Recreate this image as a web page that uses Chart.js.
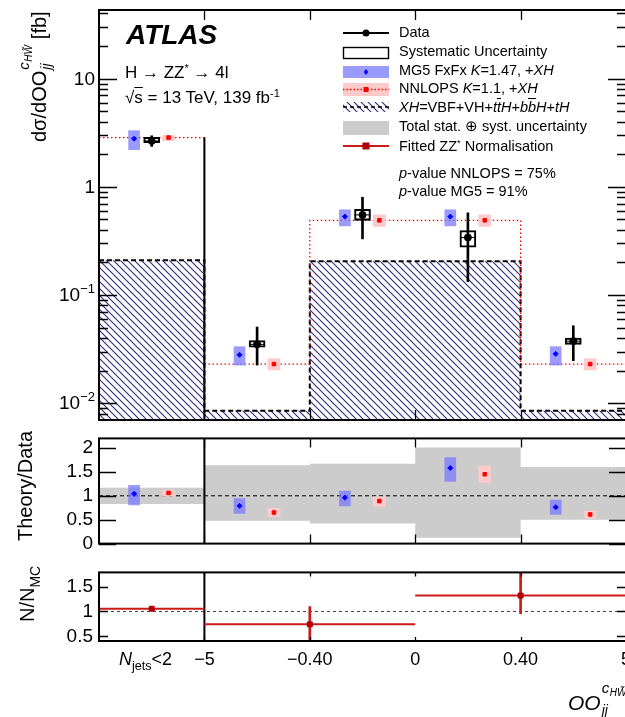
<!DOCTYPE html>
<html>
<head>
<meta charset="utf-8">
<script src="https://cdn.jsdelivr.net/npm/chart.js@4.4.1/dist/chart.umd.min.js"></script>
<style>
  html, body { margin: 0; padding: 0; background: #fff; }
  body { position: relative; width: 625px; height: 717px; overflow: hidden; font-family: "Liberation Sans", Arial, sans-serif; }
  canvas { position: absolute; left: 0; }
  .t { position: absolute; white-space: nowrap; line-height: 1; color: #000; }
  .rot { transform: rotate(-90deg); transform-origin: 0 0; }
  .sb { font-size: 0.7em; vertical-align: -0.4em; }
  .sp { font-size: 0.65em; vertical-align: 0.55em; }
  .stk { position: relative; display: inline-block; width: 26px; height: 21px; }
  .stk span { position: absolute; font-style: italic; }
  .stk .c { left: 1px; top: -9px; font-size: 15px; }
  .stk .hw { left: 9px; top: -1px; font-size: 10px; }
  .stk .jj { left: 1px; top: 14px; font-size: 14px; }
  .ob { text-decoration: overline; }
</style>
</head>
<body>
<canvas id="main" style="top:0" width="640" height="430"></canvas>
<canvas id="ratio" style="top:421px" width="640" height="140"></canvas>
<canvas id="norm" style="top:555px" width="640" height="162"></canvas>

<div class="t" style="left:126px;top:21px;font-size:28px;font-weight:bold;font-style:italic;">ATLAS</div>
<div class="t" style="left:125px;top:63px;font-size:17px;">H → ZZ<span class="sp">*</span> → 4l</div>
<div class="t" style="left:125px;top:88px;font-size:17px;">√<span class="ob">s</span> = 13 TeV, 139 fb<span class="sp">-1</span></div>

<div class="t" style="left:399px;top:25px;font-size:14.5px;">Data</div>
<div class="t" style="left:399px;top:43.5px;font-size:14.5px;">Systematic Uncertainty</div>
<div class="t" style="left:399px;top:62.5px;font-size:14.5px;">MG5 FxFx <i>K</i>=1.47, +<i>XH</i></div>
<div class="t" style="left:399px;top:81px;font-size:14.5px;">NNLOPS <i>K</i>=1.1, +<i>XH</i></div>
<div class="t" style="left:399px;top:100px;font-size:14.5px;"><i>XH</i>=VBF+VH+<i>t</i><i class="ob">t</i><i>H</i>+<i>b</i><i class="ob">b</i><i>H</i>+<i>tH</i></div>
<div class="t" style="left:399px;top:118.5px;font-size:14.5px;">Total stat. ⊕ syst. uncertainty</div>
<div class="t" style="left:399px;top:137.5px;font-size:14.5px;">Fitted ZZ<span class="sp">*</span> Normalisation</div>
<div class="t" style="left:399px;top:166px;font-size:14.5px;"><i>p</i>-value NNLOPS = 75%</div>
<div class="t" style="left:399px;top:184px;font-size:14.5px;"><i>p</i>-value MG5 = 91%</div>

<div class="t rot" style="left:25px;top:142px;font-size:20px;">dσ/dOO<span class="stk"><span class="c">c</span><span class="hw">HW̃</span><span class="jj">jj</span></span> [fb]</div>
<div class="t rot" style="left:15px;top:541px;font-size:20px;">Theory/Data</div>
<div class="t rot" style="left:17px;top:622px;font-size:20px;">N/N<span class="sb">MC</span></div>

<div class="t" style="left:119px;top:650px;font-size:18px;"><i>N</i><span class="sb">jets</span>&lt;2</div>
<div class="t" style="left:568px;top:689px;font-size:21px;"><i>OO</i><span class="stk"><span class="c">c</span><span class="hw">HW̃</span><span class="jj">jj</span></span></div>

<script>
// bins: N_jets<2 plus four OO bins; x runs over bin index 0..5
const binCentres = [0.5, 1.5, 2.5, 3.5, 4.5];
const edgeTickLabels = ['−5', '−0.40', '0', '0.40', '5'];

// differential cross sections [fb]
const dataXs = [2.65, 0.035, 0.55, 0.34, 0.0375];
const dataTotLo = [2.36, 0.0225, 0.33, 0.133, 0.0247];
const dataTotHi = [2.96, 0.0506, 0.80, 0.574, 0.052];
const dataSysLo = [2.55, 0.033, 0.49, 0.276, 0.035];
const dataSysHi = [2.86, 0.038, 0.62, 0.394, 0.040];
const mg5Xs = [2.78, 0.028, 0.53, 0.53, 0.0286];
const mg5Lo = [2.2, 0.0225, 0.435, 0.435, 0.0225];
const mg5Hi = [3.3, 0.0333, 0.613, 0.613, 0.0333];
const nnlopsXs = [2.85, 0.023, 0.49, 0.49, 0.023];
const nnlopsLo = [2.67, 0.0203, 0.43, 0.43, 0.0203];
const nnlopsHi = [2.98, 0.0258, 0.55, 0.55, 0.0258];
const xhXs = [0.21, 0.0085, 0.205, 0.205, 0.0085];

// theory / data
const bandUp = [1.17, 1.64, 1.67, 2.01, 1.60];
const bandDn = [0.83, 0.48, 0.42, 0.12, 0.50];
const mg5Ratio = [1.04, 0.79, 0.96, 1.58, 0.76];
const mg5RatioLo = [0.81, 0.63, 0.79, 1.30, 0.61];
const mg5RatioHi = [1.22, 0.94, 1.10, 1.80, 0.91];
const nnRatio = [1.06, 0.65, 0.89, 1.45, 0.61];
const nnRatioLo = [0.99, 0.57, 0.78, 1.28, 0.53];
const nnRatioHi = [1.12, 0.74, 0.98, 1.62, 0.68];

// fitted ZZ* normalisation in three wide bins
const normFrom = [0, 1, 3];
const normTo = [1, 3, 5];
const normVal = [1.055, 0.74, 1.32];
const normErrLo = [1.03, 0.35, 0.957];
const normErrHi = [1.08, 1.10, 1.95];

const MAIN_MIN = 0.007, MAIN_MAX = 43;
const mg5Shift = -0.167, nnShift = 0.16;
const mg5Fill = 'rgba(120,120,255,0.75)';
const nnFill = '#ffcaca';
const fitRed = '#cc1a1a';

const steps = vals => vals.map((v, i) => ({x: i, y: v})).concat([{x: vals.length, y: vals[vals.length - 1]}]);
const at = (vals, shift) => vals.map((v, i) => ({x: binCentres[i] + shift, y: v}));
const span = (lo, hi, shift) => lo.map((v, i) => ({x: binCentres[i] + shift, y: [v, hi[i]]}));

function makeHatch() {
    const c = document.createElement('canvas');
    c.width = c.height = 7;
    const g = c.getContext('2d');
    g.strokeStyle = '#2c2c82';
    g.lineWidth = 1.1;
    g.beginPath();
    g.moveTo(-1, -1); g.lineTo(8, 8);
    g.moveTo(-1, 6); g.lineTo(1, 8);
    g.moveTo(6, -1); g.lineTo(8, 1);
    g.stroke();
    return g.createPattern(c, 'repeat');
}
const hatch = makeHatch();

// frame with ROOT-style ticks pointing inwards
const framePlugin = {
    id: 'frame',
    afterDatasetsDraw(chart, args, opts) {
        const {ctx, chartArea: a, scales: {x, y}} = chart;
        ctx.save();
        ctx.strokeStyle = '#000';
        ctx.lineWidth = 1.3;
        const yTicks = (vals, len) => vals.forEach(v => {
            const py = Math.round(y.getPixelForValue(v)) + 0.5;
            ctx.beginPath();
            ctx.moveTo(a.left, py); ctx.lineTo(a.left + len, py);
            ctx.moveTo(a.right, py); ctx.lineTo(a.right - len, py);
            ctx.stroke();
        });
        yTicks(opts.yMajor || [], opts.majorLen);
        yTicks(opts.yMinor || [], opts.minorLen);
        (opts.xTicks || []).forEach(v => {
            const px = Math.round(x.getPixelForValue(v)) + 0.5;
            ctx.beginPath();
            ctx.moveTo(px, a.top); ctx.lineTo(px, a.top + opts.xLen);
            ctx.moveTo(px, a.bottom); ctx.lineTo(px, a.bottom - opts.xLen);
            ctx.stroke();
        });
        ctx.lineWidth = 2;
        ctx.strokeRect(a.left, a.top, a.right - a.left, a.bottom - a.top);
        ctx.restore();
    }
};

// 10^n labels for the log axis
const decadeLabels = {
    id: 'decadeLabels',
    afterDraw(chart) {
        const {ctx, scales: {y}} = chart;
        ctx.save();
        ctx.fillStyle = '#000';
        ctx.textBaseline = 'middle';
        ctx.textAlign = 'right';
        [10, 1, 0.1, 0.01].forEach(v => {
            const py = y.getPixelForValue(v);
            const e = Math.round(Math.log10(v));
            const right = 95;
            if (e >= 0) {
                ctx.font = '19px "Liberation Sans", Arial';
                ctx.fillText(e === 0 ? '1' : '10', right, py + 1);
            } else {
                ctx.font = '13px "Liberation Sans", Arial';
                const ex = '−' + (-e);
                const w = ctx.measureText(ex).width;
                ctx.fillText(ex, right, py - 6);
                ctx.font = '19px "Liberation Sans", Arial';
                ctx.fillText('10', right - w, py + 1);
            }
        });
        ctx.restore();
    }
};

// legend symbols
const legendMarks = {
    id: 'legendMarks',
    afterDraw(chart) {
        const ctx = chart.ctx;
        const x0 = 343, w = 46, xm = 366;
        ctx.save();
        const hline = (y, col, lw, dash) => {
            ctx.strokeStyle = col; ctx.lineWidth = lw; ctx.setLineDash(dash || []);
            ctx.beginPath(); ctx.moveTo(x0, y); ctx.lineTo(x0 + w, y); ctx.stroke();
            ctx.setLineDash([]);
        };
        // Data
        hline(33, '#000', 2);
        ctx.fillStyle = '#000';
        ctx.beginPath(); ctx.arc(xm, 33, 3.5, 0, Math.PI * 2); ctx.fill();
        // Systematic uncertainty
        ctx.strokeStyle = '#000'; ctx.lineWidth = 1.4;
        ctx.strokeRect(343.5, 47.5, 45, 11);
        // MG5
        ctx.fillStyle = mg5Fill; ctx.fillRect(x0, 66, w, 12);
        ctx.fillStyle = '#0000ff';
        ctx.beginPath(); ctx.moveTo(xm, 69); ctx.lineTo(xm + 2.2, 72); ctx.lineTo(xm, 75); ctx.lineTo(xm - 2.2, 72); ctx.fill();
        // NNLOPS
        ctx.fillStyle = nnFill; ctx.fillRect(x0, 83, w, 13);
        hline(89.5, '#ff0000', 1.3, [1.5, 2]);
        ctx.fillStyle = '#ff0000'; ctx.fillRect(xm - 2.5, 87, 5, 5);
        // XH
        ctx.fillStyle = hatch; ctx.fillRect(x0, 102, w, 10);
        hline(107, '#000', 1.6, [4, 3]);
        // total uncertainty
        ctx.fillStyle = '#cccccc'; ctx.fillRect(x0, 121, w, 14);
        // fitted normalisation
        hline(146, fitRed, 2);
        ctx.fillStyle = '#b00000'; ctx.fillRect(xm - 3.5, 142.5, 7, 7);
        ctx.restore();
    }
};

function options(yScale, padding, frame) {
    return {
        responsive: false,
        animation: false,
        events: [],
        layout: {padding},
        plugins: {legend: {display: false}, tooltip: {enabled: false}, frame},
        scales: {
            x: {type: 'linear', min: 0, max: 5, display: false, offset: false},
            y: Object.assign({
                grid: {display: false, drawTicks: false},
                border: {display: false},
                afterFit: s => { s.width = 99; }
            }, yScale)
        }
    };
}

const box = (data, fill, thick, order) => ({
    type: 'bar', data, backgroundColor: fill, borderWidth: 0, barThickness: thick, grouped: false, order
});
const marks = (data, style, radius, colour, order) => ({
    type: 'line', data, showLine: false, pointStyle: style, pointRadius: radius,
    backgroundColor: colour, borderColor: colour, borderWidth: 1, order
});

// minor ticks on the log axis
const minorLog = [];
for (let e = -3; e <= 1; e++) {
    for (let m = 2; m <= 9; m++) {
        const v = m * Math.pow(10, e);
        if (v > MAIN_MIN && v < MAIN_MAX) minorLog.push(v);
    }
}

new Chart(document.getElementById('main'), {
    type: 'line',
    data: {
        datasets: [
            {data: steps(xhXs), stepped: true, fill: 'start', backgroundColor: hatch, borderColor: '#000',
             borderWidth: 2, borderDash: [5, 3], pointRadius: 0, order: 20},
            {data: steps(nnlopsXs), stepped: true, fill: false, borderColor: '#ff0000',
             borderWidth: 1.3, borderDash: [1.5, 2.5], pointRadius: 0, order: 18},
            {data: [{x: 1, y: nnlopsXs[0]}, {x: 1, y: MAIN_MIN}], borderColor: '#000', borderWidth: 2, pointRadius: 0, order: 17},
            box(span(mg5Lo, mg5Hi, mg5Shift), mg5Fill, 11, 15),
            box(span(nnlopsLo, nnlopsHi, nnShift), nnFill, 12, 15),
            {type: 'bar', data: span(dataSysLo, dataSysHi, 0), backgroundColor: 'rgba(0,0,0,0)', borderColor: '#000',
             borderWidth: 1.4, borderSkipped: false, barThickness: 16, grouped: false, order: 12},
            box(span(dataTotLo, dataTotHi, 0), '#000', 2, 11),
            marks(at(dataXs, 0), 'line', 8, '#000', 10),
            marks(at(dataXs, 0), 'circle', 3.5, '#000', 9),
            marks(at(mg5Xs, mg5Shift), 'rectRot', 2.5, '#0000ff', 8),
            marks(at(nnlopsXs, nnShift), 'rect', 2.5, '#ff0000', 8)
        ]
    },
    options: options(
        {type: 'logarithmic', min: MAIN_MIN, max: MAIN_MAX, ticks: {display: false}},
        {top: 10, right: 14, bottom: 10, left: 0},
        {yMajor: [0.01, 0.1, 1, 10], yMinor: minorLog, majorLen: 18, minorLen: 9, xTicks: [1, 2, 3, 4], xLen: 10}
    ),
    plugins: [framePlugin, decadeLabels, legendMarks]
});

const linearTicks = (vals, size, pad) => ({
    ticks: {color: '#000', font: {size, family: '"Liberation Sans", Arial'}, padding: pad, autoSkip: false,
            callback: v => String(v)},
    afterBuildTicks: s => { s.ticks = vals.map(v => ({value: v})); }
});

new Chart(document.getElementById('ratio'), {
    type: 'line',
    data: {
        datasets: [
            {data: steps(bandUp), stepped: true, fill: false, borderWidth: 0, borderColor: 'rgba(0,0,0,0)', pointRadius: 0, order: 30},
            {data: steps(bandDn), stepped: true, fill: '-1', backgroundColor: '#cccccc', borderWidth: 0,
             borderColor: 'rgba(0,0,0,0)', pointRadius: 0, order: 29},
            {data: [{x: 0, y: 1}, {x: 5, y: 1}], borderColor: '#000', borderWidth: 1, borderDash: [4, 3], pointRadius: 0, order: 25},
            {data: [{x: 1, y: 0}, {x: 1, y: 2.2}], borderColor: '#000', borderWidth: 2, pointRadius: 0, order: 24},
            box(span(mg5RatioLo, mg5RatioHi, mg5Shift), mg5Fill, 11, 15),
            box(span(nnRatioLo, nnRatioHi, nnShift), nnFill, 12, 15),
            marks(at(mg5Ratio, mg5Shift), 'rectRot', 2.5, '#0000ff', 8),
            marks(at(nnRatio, nnShift), 'rect', 2.5, '#ff0000', 8)
        ]
    },
    options: options(
        Object.assign(linearTicks([0, 0.5, 1, 1.5, 2], 19, 6), {type: 'linear', min: 0, max: 2.2}),
        {top: 10, right: 14, bottom: 11, left: 0},
        {yMajor: [0, 0.5, 1, 1.5, 2], majorLen: 17, xTicks: [1, 2, 3, 4], xLen: 9}
    ),
    plugins: [framePlugin]
});

const normOpts = options(
    Object.assign(linearTicks([0.5, 1, 1.5], 19, 6), {type: 'linear', min: 0.405, max: 1.787}),
    {top: 10, right: 14, bottom: 0, left: 0},
    {yMajor: [0.5, 1, 1.5], majorLen: 9, xTicks: [1, 2, 3, 4], xLen: 4}
);
normOpts.scales.x = {
    type: 'linear', min: 0, max: 5, offset: false,
    grid: {display: false, drawTicks: false},
    border: {display: false},
    ticks: {color: '#000', font: {size: 18, family: '"Liberation Sans", Arial'}, padding: 8,
            autoSkip: false, maxRotation: 0, callback: (v, i) => edgeTickLabels[i]},
    afterBuildTicks: s => { s.ticks = [1, 2, 3, 4, 5].map(v => ({value: v})); },
    afterFit: s => { s.height = 76; }
};

// horizontal bars of the fitted normalisation, broken between bins
const normSegments = [];
normVal.forEach((v, i) => {
    normSegments.push({x: normFrom[i], y: v}, {x: normTo[i], y: v}, {x: normTo[i], y: null});
});

new Chart(document.getElementById('norm'), {
    type: 'line',
    data: {
        datasets: [
            {data: [{x: 0, y: 1}, {x: 5, y: 1}], borderColor: '#444', borderWidth: 1, borderDash: [3, 3], pointRadius: 0, order: 25},
            {data: [{x: 1, y: 0.405}, {x: 1, y: 1.787}], borderColor: '#000', borderWidth: 2, pointRadius: 0, order: 24},
            {data: normSegments, borderColor: fitRed, borderWidth: 2, pointRadius: 0, spanGaps: false, order: 12},
            box(normErrLo.map((v, i) => ({x: (normFrom[i] + normTo[i]) / 2, y: [v, normErrHi[i]]})), fitRed, 2, 11),
            marks(normVal.map((v, i) => ({x: (normFrom[i] + normTo[i]) / 2, y: v})), 'rect', 3.5, '#b00000', 8)
        ]
    },
    options: normOpts,
    plugins: [framePlugin]
});
</script>
</body>
</html>
